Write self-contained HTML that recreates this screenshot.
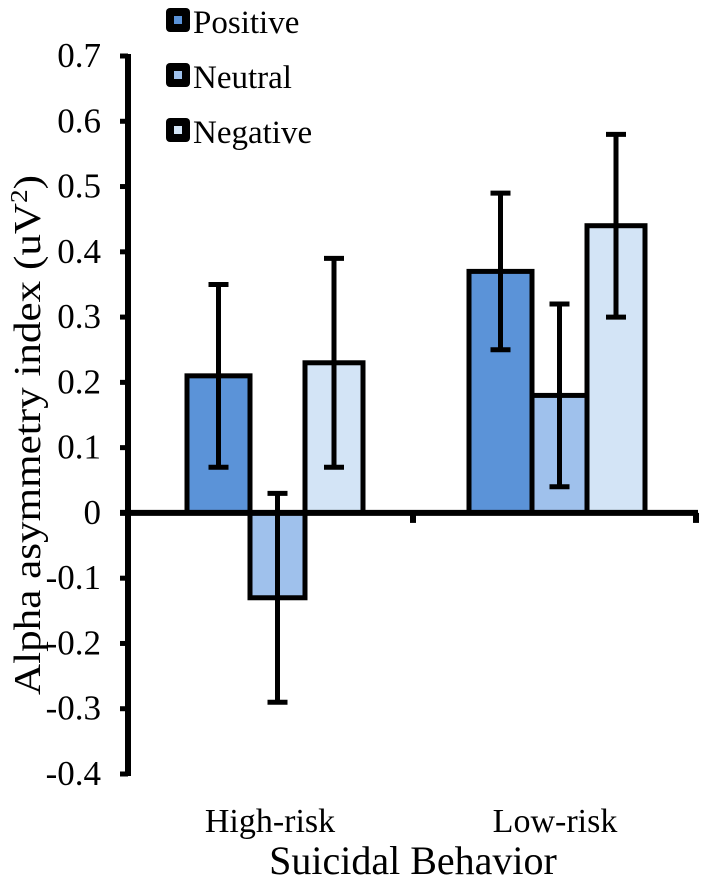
<!DOCTYPE html>
<html><head><meta charset="utf-8"><style>
html,body{margin:0;padding:0;background:#fff;}
svg{display:block;font-family:"Liberation Serif",serif;}
</style></head><body>
<svg id="chart" width="709" height="886" viewBox="0 0 709 886">
<g id="plot"></g>
</svg>
<script>
const categories = ["High-risk", "Low-risk"];
const seriesNames = ["Positive", "Neutral", "Negative"];
const positiveValues = [0.21, 0.37];
const neutralValues = [-0.13, 0.18];
const negativeValues = [0.23, 0.44];
const positiveErr = [0.14, 0.12];
const neutralErr = [0.16, 0.14];
const negativeErr = [0.16, 0.14];
const yTicks = [0.7, 0.6, 0.5, 0.4, 0.3, 0.2, 0.1, 0, -0.1, -0.2, -0.3, -0.4];
const yTickLabels = ["0.7","0.6","0.5","0.4","0.3","0.2","0.1","0","-0.1","-0.2","-0.3","-0.4"];

const fills = ["#5b93d8", "#9fc1ec", "#d3e4f6"];
const NS = "http://www.w3.org/2000/svg";
const g = document.getElementById('plot');
const yMin = -0.4, yMax = 0.7, pxTop = 56, pxBot = 774;
function y(v){ return pxBot - (v - yMin) / (yMax - yMin) * (pxBot - pxTop); }
const axisX = 128, xEnd = 698;
const groupStart = [187, 469], barW = [63, 55, 58];
function mk(tag, attrs){ const e = document.createElementNS(NS, tag); for (const k in attrs) e.setAttribute(k, attrs[k]); g.appendChild(e); return e; }

let e = mk('line', {x1:axisX, y1:pxTop-2, x2:axisX, y2:pxBot+2, stroke:'#000','stroke-width':6});


yTicks.forEach((t, i) => {
  let tk = mk('line', {x1:axisX-8, y1:y(t), x2:axisX, y2:y(t), stroke:'#000','stroke-width':5});
  
  
  let tl = mk('text', {x:101, y:y(t)+11, 'text-anchor':'end','font-size':35});
  tl.textContent = yTickLabels[i];
  
  
});

const series = [positiveValues, neutralValues, negativeValues];
const errs = [positiveErr, neutralErr, negativeErr];
categories.forEach((c, ci) => {
  let x0 = groupStart[ci];
  series.forEach((vals, si) => {
    const v = vals[ci], top = Math.min(y(v), y(0)), h = Math.abs(y(v) - y(0));
    let r = mk('rect', {x:x0, y:top, width:barW[si], height:h, fill:fills[si], stroke:'#000','stroke-width':5});
    
    
    const cx = x0 + barW[si]/2, eh = y(v + errs[si][ci]), el = y(v - errs[si][ci]);
    let eb = mk('path', {d:`M${cx},${eh}V${el}M${cx-10},${eh}H${cx+10}M${cx-10},${el}H${cx+10}`, stroke:'#000','stroke-width':5, fill:'none'});
    
    
    x0 += barW[si];
  });
});

e = mk('line', {x1:axisX-8, y1:y(0), x2:xEnd, y2:y(0), stroke:'#000','stroke-width':6});


[413, xEnd-2].forEach(tx => {
  let tk = mk('line', {x1:tx, y1:y(0), x2:tx, y2:y(0)+10, stroke:'#000','stroke-width':6});
  
  
});
const catCenters = [270, 555];
categories.forEach((c, i) => {
  let t = mk('text', {x:catCenters[i], y:832, 'text-anchor':'middle','font-size':34});
  t.textContent = c;
  
  
});
let xt = mk('text', {x:413, y:874, 'text-anchor':'middle','font-size':40});
xt.textContent = 'Suicidal Behavior';


let yt = mk('text', {x:0, y:0, 'text-anchor':'middle','font-size':38, textLength:520, lengthAdjust:'spacingAndGlyphs', transform:'translate(40,435) rotate(-90)'});
yt.innerHTML = 'Alpha asymmetry index (uV<tspan font-size="24" dy="-13">2</tspan><tspan dy="13">)</tspan>';



seriesNames.forEach((n, i) => {
  const ly = 8 + i * 55;
  let b = mk('rect', {x:166, y:ly, width:24, height:24, rx:4, fill:'#000'});
  
  
  let s = mk('rect', {x:174, y:ly+8, width:8, height:8, fill:fills[i]});
  
  
  let t = mk('text', {x:193, y:ly+25, 'font-size':33});
  t.textContent = n;
  
  
});
</script>
</body></html>
